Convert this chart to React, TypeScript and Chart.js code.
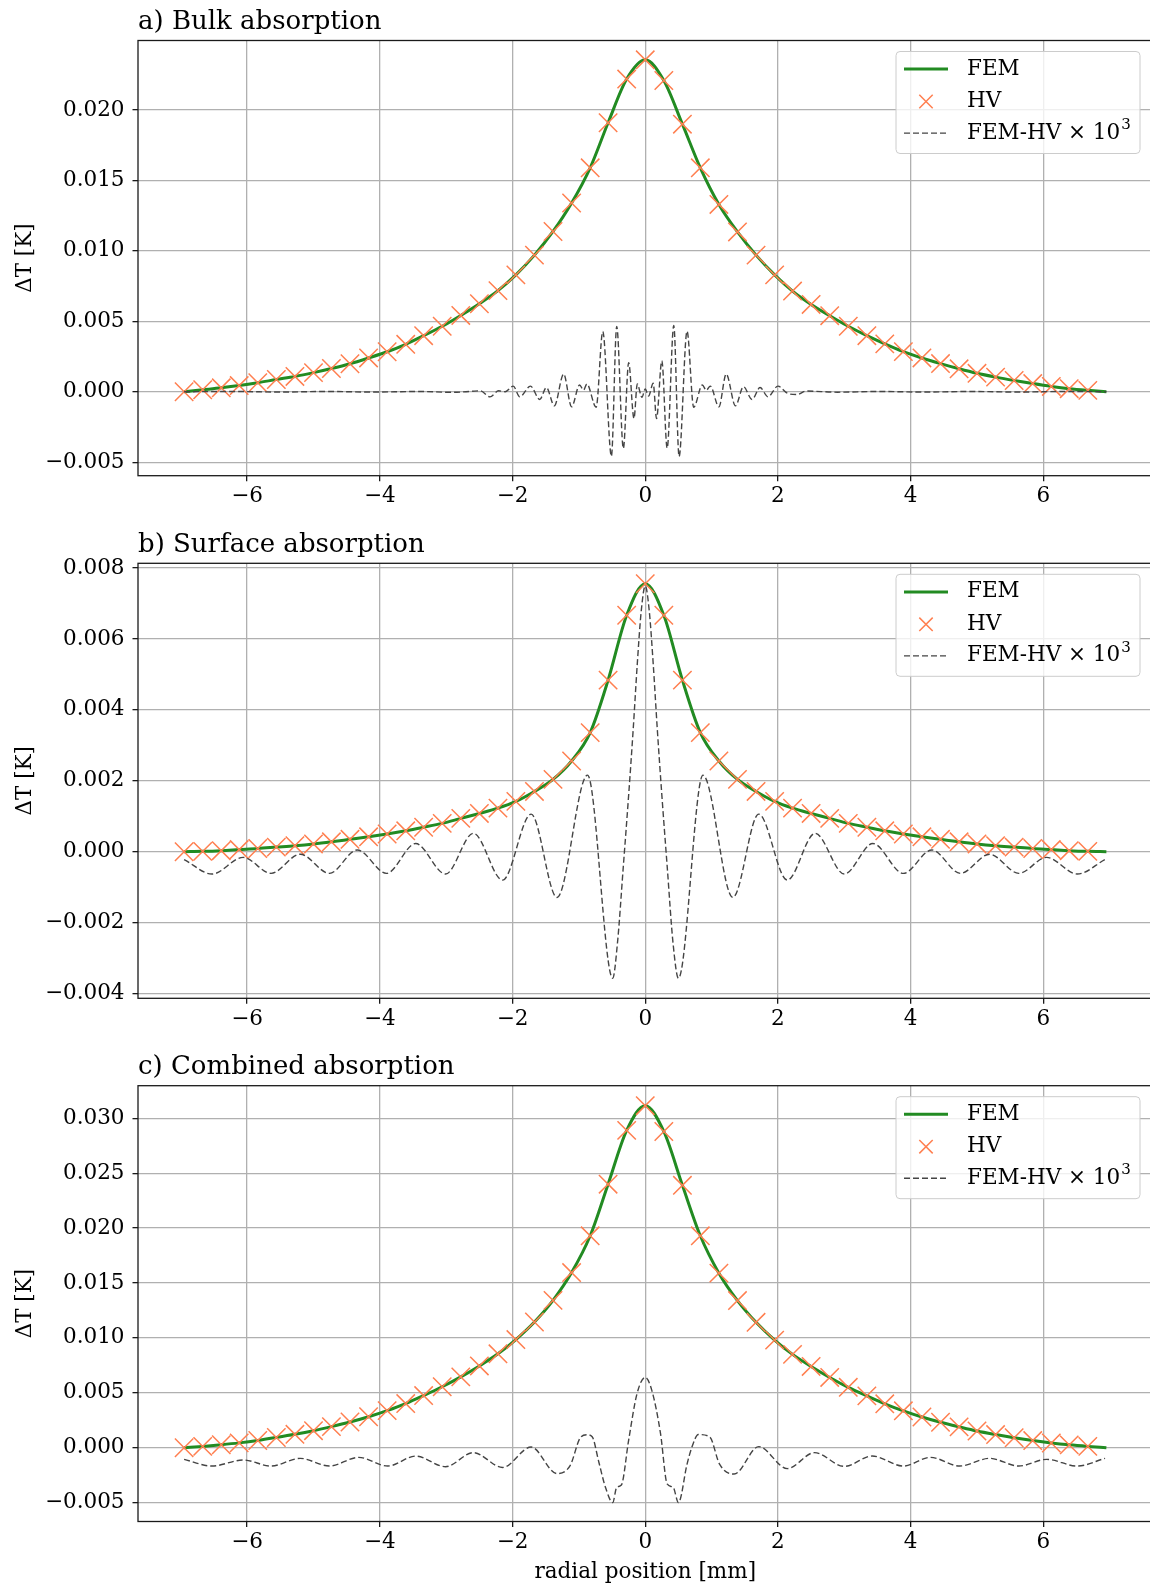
import React, { useEffect, useRef } from 'react';
import { Chart, registerables } from 'chart.js';

Chart.register(...registerables);

const FONT = '"DejaVu Serif", "Liberation Serif", serif';

// ---------- data (radial position in mm, temperature rise in K) ----------
const markerX = [
  -6.95, -6.67, -6.39, -6.12, -5.84, -5.56, -5.28, -5.0, -4.73, -4.45,
  -4.17, -3.89, -3.61, -3.34, -3.06, -2.78, -2.5, -2.22, -1.95, -1.67,
  -1.39, -1.11, -0.83, -0.56, -0.28, 0.0, 0.28, 0.56, 0.83, 1.11,
  1.39, 1.67, 1.95, 2.22, 2.5, 2.78, 3.06, 3.34, 3.61, 3.89,
  4.17, 4.45, 4.73, 5.0, 5.28, 5.56, 5.84, 6.12, 6.39, 6.67,
];
const femX = [
  -6.95, -6.67, -6.39, -6.12, -5.84, -5.56, -5.28, -5.0, -4.73, -4.45,
  -4.17, -3.89, -3.61, -3.34, -3.06, -2.78, -2.5, -2.22, -1.95, -1.67,
  -1.39, -1.11, -0.83, -0.56, -0.28, 0.0, 0.28, 0.56, 0.83, 1.11,
  1.39, 1.67, 1.95, 2.22, 2.5, 2.78, 3.06, 3.34, 3.61, 3.89,
  4.17, 4.45, 4.73, 5.0, 5.28, 5.56, 5.84, 6.12, 6.39, 6.67, 6.95,
];

const femBulk = [
  0.0, 0.00014, 0.00028, 0.00044, 0.00064, 0.00087, 0.00109, 0.00136, 0.00165, 0.00199,
  0.0024, 0.00284, 0.00337, 0.00398, 0.00465, 0.00542, 0.00625, 0.00718, 0.0083, 0.0097,
  0.01138, 0.0134, 0.0159, 0.0191, 0.0222, 0.02357, 0.0221, 0.019, 0.0159, 0.0133,
  0.01135, 0.0097, 0.0083, 0.00715, 0.0062, 0.0054, 0.00465, 0.00398, 0.0034, 0.00285,
  0.0024, 0.002, 0.00163, 0.00131, 0.00104, 0.0008, 0.00058, 0.00038, 0.00022, 0.0001, 0.0,
];
const hvBulk = [
  0.0, 0.00014, 0.00028, 0.00044, 0.00064, 0.00087, 0.00109, 0.00136, 0.00165, 0.00199,
  0.0024, 0.00284, 0.00337, 0.00398, 0.00465, 0.00542, 0.00625, 0.00718, 0.0083, 0.0097,
  0.01138, 0.0134, 0.0159, 0.0191, 0.0222, 0.02357, 0.0221, 0.019, 0.0159, 0.0133,
  0.01135, 0.0097, 0.0083, 0.00715, 0.0062, 0.0054, 0.00465, 0.00398, 0.0034, 0.00285,
  0.0024, 0.002, 0.00163, 0.00131, 0.00104, 0.0008, 0.00058, 0.00038, 0.00022, 0.0001,
];
const diffBulk: [number, number][] = [
  [-6.95, 0], [-6.2, 0.00002], [-5.5, -0.00002], [-4.8, 0.00002], [-4.1, -0.00002],
  [-3.4, 0.00002], [-2.9, -0.00004], [-2.62, 0.00003], [-2.49, 0.00007], [-2.34, -0.00036],
  [-2.21, 0.00007], [-2.11, 0.0], [-1.99, 0.0004], [-1.89, -0.00036], [-1.73, 0.0004],
  [-1.59, -0.00055], [-1.49, 0.0003], [-1.37, -0.001], [-1.23, 0.00126], [-1.11, -0.00107],
  [-0.99, 0.00048], [-0.93, 0.00012], [-0.88, 0.00055], [-0.74, -0.0011], [-0.64, 0.00428],
  [-0.51, -0.00457], [-0.43, 0.00464], [-0.33, -0.00402], [-0.25, 0.00207], [-0.17, -0.0019],
  [-0.12, 0.00055], [-0.05, -0.0004], [0.0, 0.0002], [0.05, -0.0003], [0.12, 0.0006],
  [0.17, -0.0019], [0.25, 0.0022], [0.33, -0.004], [0.43, 0.0047], [0.51, -0.0046],
  [0.63, 0.0043], [0.73, -0.0011], [0.86, 0.00048], [0.92, 0.0001], [0.98, 0.0004],
  [1.11, -0.00107], [1.22, 0.00126], [1.36, -0.001], [1.48, 0.00036], [1.61, -0.00055],
  [1.73, 0.0003], [1.85, -0.00036], [2.0, 0.0004], [2.14, -0.0001], [2.29, -0.0002],
  [2.42, 0.00005], [2.9, -0.00003], [3.5, 0.00002], [4.2, -0.00002], [4.9, 0.00002],
  [5.6, -0.00002], [6.3, 0.00002], [6.95, 0],
];

const femSurface = [
  0.0, 0.00001, 0.00003, 0.00006, 0.00009, 0.00013, 0.00017, 0.00022, 0.00028, 0.00035,
  0.00042, 0.0005, 0.00059, 0.00069, 0.0008, 0.00094, 0.00108, 0.00123, 0.00142, 0.0017,
  0.00204, 0.00256, 0.00336, 0.00484, 0.00667, 0.00756, 0.00667, 0.00484, 0.00336, 0.00256,
  0.00204, 0.0017, 0.00142, 0.00123, 0.00108, 0.00094, 0.0008, 0.00069, 0.00059, 0.0005,
  0.00042, 0.00035, 0.00028, 0.00022, 0.00017, 0.00013, 0.00009, 0.00006, 0.00003, 0.00001, 0.0,
];
const hvSurface = [
  0.0, 0.00001, 0.00003, 0.00006, 0.00009, 0.00013, 0.00017, 0.00022, 0.00028, 0.00035,
  0.00042, 0.0005, 0.00059, 0.00069, 0.0008, 0.00094, 0.00108, 0.00123, 0.00142, 0.0017,
  0.00204, 0.00256, 0.00336, 0.00484, 0.00667, 0.00756, 0.00667, 0.00484, 0.00336, 0.00256,
  0.00204, 0.0017, 0.00142, 0.00123, 0.00108, 0.00094, 0.0008, 0.00069, 0.00059, 0.0005,
  0.00042, 0.00035, 0.00028, 0.00022, 0.00017, 0.00013, 0.00009, 0.00006, 0.00003, 0.00001,
];
const diffSurface: [number, number][] = [
  [-6.95, -0.00022], [-6.53, -0.00063], [-6.06, -0.00016], [-5.64, -0.00061], [-5.2, -0.00007],
  [-4.76, -0.00061], [-4.34, 0.00005], [-3.9, -0.00061], [-3.46, 0.00023], [-3.01, -0.00063],
  [-2.59, 0.00052], [-2.15, -0.0008], [-1.72, 0.00106], [-1.33, -0.00129], [-0.87, 0.00216],
  [-0.49, -0.00357], [-0.42, -0.0026], [-0.33, -0.0004], [-0.25, 0.0016], [-0.18, 0.0035],
  [-0.12, 0.0053], [-0.06, 0.0068], [0.0, 0.0075], [0.06, 0.0068], [0.12, 0.0053],
  [0.18, 0.0035], [0.25, 0.0016], [0.33, -0.0004], [0.42, -0.0026], [0.5, -0.00357],
  [0.87, 0.00216], [1.32, -0.00129], [1.71, 0.00106], [2.14, -0.0008], [2.56, 0.00052],
  [3.0, -0.00063], [3.43, 0.00023], [3.89, -0.00061], [4.32, 0.00005], [4.75, -0.00061],
  [5.19, -0.00007], [5.63, -0.00061], [6.05, -0.00016], [6.51, -0.00063], [6.93, -0.00022],
];

const femCombined = [
  0.0, 0.00012, 0.00027, 0.00044, 0.00066, 0.00093, 0.00122, 0.00155, 0.00192, 0.00234,
  0.00282, 0.00338, 0.00402, 0.00475, 0.00555, 0.00645, 0.00745, 0.00855, 0.00985, 0.01145,
  0.01342, 0.01595, 0.0193, 0.024, 0.0289, 0.03115, 0.0288, 0.0239, 0.0193, 0.0159,
  0.0134, 0.01142, 0.0098, 0.0085, 0.0074, 0.0064, 0.0055, 0.00472, 0.004, 0.00336,
  0.0028, 0.00232, 0.0019, 0.00152, 0.0012, 0.00091, 0.00065, 0.00043, 0.00026, 0.00012, 0.0,
];
const hvCombined = [
  0.0, 0.00012, 0.00027, 0.00044, 0.00066, 0.00093, 0.00122, 0.00155, 0.00192, 0.00234,
  0.00282, 0.00338, 0.00402, 0.00475, 0.00555, 0.00645, 0.00745, 0.00855, 0.00985, 0.01145,
  0.01342, 0.01595, 0.0193, 0.024, 0.0289, 0.03115, 0.0288, 0.0239, 0.0193, 0.0159,
  0.0134, 0.01142, 0.0098, 0.0085, 0.0074, 0.0064, 0.0055, 0.00472, 0.004, 0.00336,
  0.0028, 0.00232, 0.0019, 0.00152, 0.0012, 0.00091, 0.00065, 0.00043, 0.00026, 0.00012,
];
const diffCombined: [number, number][] = [
  [-6.95, -0.00106], [-6.53, -0.00167], [-6.06, -0.00112], [-5.64, -0.00167], [-5.2, -0.00097],
  [-4.76, -0.00167], [-4.32, -0.00088], [-3.88, -0.00167], [-3.46, -0.00076], [-3.01, -0.00173],
  [-2.59, -0.00045], [-2.15, -0.0018], [-1.72, 0.00006], [-1.33, -0.00236], [-1.13, -0.0016],
  [-0.98, 0.0009], [-0.88, 0.00118], [-0.8, 0.001], [-0.7, -0.0013], [-0.6, -0.0036],
  [-0.49, -0.005], [-0.43, -0.0036], [-0.36, -0.0034], [-0.25, 0.0007], [-0.125, 0.0049],
  [0.0, 0.0064], [0.1, 0.0052], [0.23, 0.0013], [0.33, -0.0033], [0.42, -0.0036],
  [0.5, -0.005], [0.63, -0.0015], [0.7, 0.0], [0.8, 0.0012], [0.97, 0.001],
  [1.12, -0.0015], [1.34, -0.0024], [1.71, 0.0001], [2.14, -0.0019], [2.55, -0.00045],
  [3.0, -0.0017], [3.42, -0.00076], [3.89, -0.00167], [4.3, -0.00088], [4.74, -0.00167],
  [5.19, -0.00097], [5.63, -0.00167], [6.05, -0.00106], [6.51, -0.00167], [6.93, -0.00097],
];

const xTicks = [-6, -4, -2, 0, 2, 4, 6];
const yTicksBulk = [-0.005, 0, 0.005, 0.01, 0.015, 0.02];
const yTicksSurface = [-0.004, -0.002, 0, 0.002, 0.004, 0.006, 0.008];
const yTicksCombined = [-0.005, 0, 0.005, 0.01, 0.015, 0.02, 0.025, 0.03];
const xRange = [-7.645, 7.645];
const yRangeBulk = [-0.00596, 0.02494];
const yRangeSurface = [-0.004135, 0.008136];
const yRangeCombined = [-0.00672, 0.03297];

const panelTitles = ['a) Bulk absorption', 'b) Surface absorption', 'c) Combined absorption'];
const seriesLabels = ['FEM', 'HV', 'FEM-HV \u00d7 10\u00b3'];
const diffLabelBase = 'FEM-HV \u00d7 10';
const diffLabelExp = '3';
const xAxisLabel = 'radial position [mm]';
const yAxisLabel = '\u0394T [K]';

// ---------- styling ----------
const GREEN = '#228B22';
const CORAL = '#FF7F50';
const DASH = '#444444';
const GRID = '#b0b0b0';
const SPINE = '#1a1a1a';
const BASE_SIZE = 21.5;
const TITLE_SIZE = 26;

const CANVAS_W = 1160;
const AREA_RIGHT = 1152.5;

const fmtY = (v: number) => (v < 0 ? '\u2212' : '') + Math.abs(v).toFixed(3);
const fmtX = (v: number) => (v < 0 ? '\u2212' : '') + String(Math.abs(v));
const pts = (xs: number[], ys: number[]) => xs.map((x, i) => ({ x, y: ys[i] }));
const pairPts = (ps: [number, number][]) => ps.map(([x, y]) => ({ x, y }));

const mplPlugin = {
  id: 'mplFrameLegend',
  afterDatasetsDraw(chart: any) {
    const { ctx, chartArea: a } = chart;
    ctx.save();
    ctx.strokeStyle = SPINE;
    ctx.lineWidth = 1.3;
    ctx.strokeRect(a.left, a.top, a.right - a.left, a.bottom - a.top);
    ctx.restore();
  },
  afterDraw(chart: any) {
    const { ctx, chartArea: a } = chart;
    const bw = 244;
    const bh = 102;
    const bx = a.right - 12.5 - bw;
    const by = a.top + 11;
    ctx.save();
    ctx.beginPath();
    const r = 4;
    ctx.moveTo(bx + r, by);
    ctx.lineTo(bx + bw - r, by);
    ctx.arcTo(bx + bw, by, bx + bw, by + r, r);
    ctx.lineTo(bx + bw, by + bh - r);
    ctx.arcTo(bx + bw, by + bh, bx + bw - r, by + bh, r);
    ctx.lineTo(bx + r, by + bh);
    ctx.arcTo(bx, by + bh, bx, by + bh - r, r);
    ctx.lineTo(bx, by + r);
    ctx.arcTo(bx, by, bx + r, by, r);
    ctx.closePath();
    ctx.fillStyle = 'rgba(255,255,255,0.8)';
    ctx.fill();
    ctx.strokeStyle = '#cccccc';
    ctx.lineWidth = 1;
    ctx.stroke();

    const rows = [by + 17.6, by + 50, by + 81.6];
    // FEM handle
    ctx.strokeStyle = GREEN;
    ctx.lineWidth = 3;
    ctx.beginPath();
    ctx.moveTo(bx + 8, rows[0]);
    ctx.lineTo(bx + 52, rows[0]);
    ctx.stroke();
    // HV handle
    const h = 6.7;
    ctx.strokeStyle = CORAL;
    ctx.lineWidth = 1.5;
    ctx.beginPath();
    ctx.moveTo(bx + 30 - h, rows[1] - h);
    ctx.lineTo(bx + 30 + h, rows[1] + h);
    ctx.moveTo(bx + 30 - h, rows[1] + h);
    ctx.lineTo(bx + 30 + h, rows[1] - h);
    ctx.stroke();
    // diff handle
    ctx.strokeStyle = DASH;
    ctx.lineWidth = 1.4;
    ctx.setLineDash([6, 3]);
    ctx.beginPath();
    ctx.moveTo(bx + 8, rows[2]);
    ctx.lineTo(bx + 52, rows[2]);
    ctx.stroke();
    ctx.setLineDash([]);

    ctx.fillStyle = '#000';
    ctx.font = `${BASE_SIZE}px ${FONT}`;
    ctx.textBaseline = 'middle';
    ctx.textAlign = 'left';
    const tx = bx + 71;
    ctx.fillText(seriesLabels[0], tx, rows[0]);
    ctx.fillText(seriesLabels[1], tx, rows[1]);
    ctx.fillText(diffLabelBase, tx, rows[2]);
    const w = ctx.measureText(diffLabelBase).width;
    ctx.font = `${BASE_SIZE * 0.7}px ${FONT}`;
    ctx.fillText(diffLabelExp, tx + w + 1, rows[2] - 8);
    ctx.restore();
  },
};

type PanelProps = {
  title: string;
  fem: number[];
  hv: number[];
  diff: [number, number][];
  yTicks: number[];
  yRange: number[];
  top: number;
  height: number;
  areaTop: number;
  xAxisHeight: number;
  showXTitle: boolean;
};

function Panel(p: PanelProps) {
  const ref = useRef<HTMLCanvasElement | null>(null);
  useEffect(() => {
    if (!ref.current) return;
    const titleLine = TITLE_SIZE * 1.2;
    const titlePadTop = 6.5;
    const titlePadBottom = p.areaTop - titleLine - titlePadTop;
    const chart = new Chart(ref.current, {
      type: 'line',
      data: {
        datasets: [
          {
            label: seriesLabels[0],
            data: pts(femX, p.fem),
            borderColor: GREEN,
            backgroundColor: GREEN,
            borderWidth: 3,
            pointRadius: 0,
            cubicInterpolationMode: 'monotone',
            fill: false,
            order: 3,
          },
          {
            label: seriesLabels[1],
            data: pts(markerX, p.hv),
            showLine: false,
            pointStyle: 'crossRot',
            pointRadius: 13,
            pointBorderWidth: 1.5,
            pointBorderColor: CORAL,
            pointBackgroundColor: CORAL,
            borderColor: CORAL,
            backgroundColor: CORAL,
            order: 2,
          },
          {
            label: seriesLabels[2],
            data: pairPts(p.diff),
            borderColor: DASH,
            backgroundColor: DASH,
            borderWidth: 1.4,
            borderDash: [6, 3],
            pointRadius: 0,
            cubicInterpolationMode: 'monotone',
            fill: false,
            order: 1,
          },
        ],
      } as any,
      options: {
        responsive: false,
        animation: false,
        devicePixelRatio: 1,
        events: [],
        layout: {
          autoPadding: false,
          padding: { left: 0, right: CANVAS_W - AREA_RIGHT, top: 0, bottom: 0 },
        },
        plugins: {
          legend: { display: false },
          tooltip: { enabled: false },
          title: {
            display: true,
            text: p.title,
            align: 'start',
            fullSize: false,
            color: '#000',
            font: { family: FONT, size: TITLE_SIZE, weight: 'normal' },
            padding: { top: titlePadTop, bottom: titlePadBottom },
          },
        },
        scales: {
          x: {
            type: 'linear',
            min: xRange[0],
            max: xRange[1],
            bounds: 'data',
            afterBuildTicks: (s: any) => {
              s.ticks = xTicks.map((v) => ({ value: v }));
            },
            afterFit: (s: any) => {
              s.height = p.xAxisHeight;
              s.paddingLeft = 0;
              s.paddingRight = 0;
            },
            grid: { color: GRID, lineWidth: 1.3, tickLength: 5.5, tickColor: SPINE, tickWidth: 1.3 },
            border: { display: false },
            ticks: {
              autoSkip: false,
              maxRotation: 0,
              minRotation: 0,
              padding: 2.5,
              color: '#000',
              font: { family: FONT, size: BASE_SIZE },
              callback: (v: any) => fmtX(Number(v)),
            },
            title: {
              display: p.showXTitle,
              text: xAxisLabel,
              color: '#000',
              font: { family: FONT, size: BASE_SIZE },
              padding: { top: 0, bottom: 1.5 },
            },
          },
          y: {
            type: 'linear',
            min: p.yRange[0],
            max: p.yRange[1],
            bounds: 'data',
            afterBuildTicks: (s: any) => {
              s.ticks = p.yTicks.map((v) => ({ value: v }));
            },
            afterFit: (s: any) => {
              s.width = 138;
              s.paddingTop = 0;
              s.paddingBottom = 0;
            },
            grid: { color: GRID, lineWidth: 1.3, tickLength: 5.5, tickColor: SPINE, tickWidth: 1.3 },
            border: { display: false },
            ticks: {
              autoSkip: false,
              padding: 8,
              color: '#000',
              font: { family: FONT, size: BASE_SIZE },
              callback: (v: any) => fmtY(Number(v)),
            },
            title: {
              display: true,
              text: yAxisLabel,
              color: '#000',
              font: { family: FONT, size: BASE_SIZE },
              padding: { top: 12.4, bottom: 0 },
            },
          },
        },
      } as any,
      plugins: [mplPlugin],
    });
    return () => chart.destroy();
  }, []);
  return (
    <canvas
      ref={ref}
      width={CANVAS_W}
      height={p.height}
      style={{ position: 'absolute', left: 0, top: p.top, width: CANVAS_W, height: p.height }}
    />
  );
}

export default function App() {
  return (
    <div
      style={{
        position: 'absolute',
        left: 0,
        top: 0,
        width: 1150,
        height: 1587,
        overflow: 'hidden',
        background: '#fff',
      }}
    >
      <Panel
        title={panelTitles[0]}
        fem={femBulk}
        hv={hvBulk}
        diff={diffBulk}
        yTicks={yTicksBulk}
        yRange={yRangeBulk}
        top={0}
        height={523}
        areaTop={40.5}
        xAxisHeight={47.3}
        showXTitle={false}
      />
      <Panel
        title={panelTitles[1]}
        fem={femSurface}
        hv={hvSurface}
        diff={diffSurface}
        yTicks={yTicksSurface}
        yRange={yRangeSurface}
        top={523}
        height={522}
        areaTop={40.3}
        xAxisHeight={46.7}
        showXTitle={false}
      />
      <Panel
        title={panelTitles[2]}
        fem={femCombined}
        hv={hvCombined}
        diff={diffCombined}
        yTicks={yTicksCombined}
        yRange={yRangeCombined}
        top={1045}
        height={542}
        areaTop={40.7}
        xAxisHeight={65.5}
        showXTitle={true}
      />
    </div>
  );
}
